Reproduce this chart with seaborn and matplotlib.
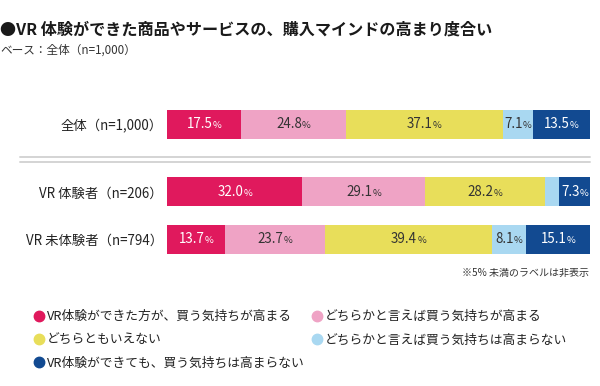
import matplotlib
matplotlib.use("Agg")
import matplotlib.pyplot as plt
import seaborn as sns
import pandas as pd
from matplotlib.lines import Line2D
from matplotlib.offsetbox import TextArea, HPacker, AnnotationBbox

sns.set_theme(style="white")
plt.rcParams['font.family'] = ['Noto Sans CJK JP', 'DejaVu Sans']

# ---------------- data ----------------
title = "●VR 体験ができた商品やサービスの、購入マインドの高まり度合い"
subtitle = "ベース：全体（n=1,000）"
note = "※5% 未満のラベルは非表示"
top_groups = ["全体（n=1,000）"]
bottom_groups = ["VR 体験者（n=206）", "VR 未体験者（n=794）"]
series = [
    "VR体験ができた方が、買う気持ちが高まる",
    "どちらかと言えば買う気持ちが高まる",
    "どちらともいえない",
    "どちらかと言えば買う気持ちは高まらない",
    "VR体験ができても、買う気持ちは高まらない",
]
total_vals = [17.5, 24.8, 37.1, 7.1, 13.5]
vr_vals = [32.0, 29.1, 28.2, 3.4, 7.3]
nonvr_vals = [13.7, 23.7, 39.4, 8.1, 15.1]

colors = ["#E0195D", "#EFA3C5", "#E8DE5A", "#A9D8F1", "#124A91"]
text_colors = ["white", "#333333", "#333333", "#333333", "white"]

# ---------------- layout ----------------
W, H = 600, 386
fig = plt.figure(figsize=(W / 100, H / 100), dpi=100)
fig.patch.set_facecolor("white")


def px_rect(x0, y0, x1, y1):
    return [x0 / W, 1 - y1 / H, (x1 - x0) / W, (y1 - y0) / H]


def draw_stack(ax, groups, rows):
    recs = []
    for g, vals in zip(groups, rows):
        cum = 0.0
        for s, v in zip(series, vals):
            cum += v
            recs.append(dict(group=g, series=s, value=v, cum=cum, mid=cum - v / 2))
    df = pd.DataFrame(recs)
    for i in reversed(range(len(series))):
        sub = df[df.series == series[i]]
        sns.barplot(data=sub, x="cum", y="group", order=groups, color=colors[i],
                    saturation=1, width=0.62, orient="h", ax=ax, linewidth=0)
    ax.set_xlim(0, 100)
    ax.set_ylim(len(groups) - 0.5, -0.5)
    for sp in ax.spines.values():
        sp.set_visible(False)
    ax.set_xticks([])
    ax.set_xlabel("")
    ax.set_ylabel("")
    ax.tick_params(axis="y", length=0, pad=3, labelsize=9.6, labelcolor="#222222")
    for r in df.itertuples():
        if r.value < 5:
            continue
        i = series.index(r.series)
        gi = groups.index(r.group)
        num = TextArea(f"{r.value:.1f}", textprops=dict(color=text_colors[i], fontsize=9.6))
        pct = TextArea("%", textprops=dict(color=text_colors[i], fontsize=6.8))
        box = HPacker(children=[num, pct], align="baseline", pad=0, sep=0)
        ab = AnnotationBbox(box, (r.mid, gi), xycoords="data", box_alignment=(0.5, 0.5),
                            frameon=False, pad=0)
        ax.add_artist(ab)


ax_top = fig.add_axes(px_rect(167, 100.5, 590, 148.5))
draw_stack(ax_top, top_groups, [total_vals])

ax_bot = fig.add_axes(px_rect(167, 168, 590, 263))
draw_stack(ax_bot, bottom_groups, [vr_vals, nonvr_vals])

# separator (double grey line)
for yy in (156.7, 161.7):
    fig.add_artist(Line2D([20 / W, 590 / W], [1 - yy / H] * 2, color="#d4d4d4", lw=1.4))

# titles
fig.text(0 / W, 1 - 30 / H, title, fontsize=11.6, fontweight="bold", color="#1a1a1a",
         ha="left", va="center")
fig.text(0 / W, 1 - 50 / H, subtitle, fontsize=8.4, color="#333333", ha="left", va="center")
fig.text(589 / W, 1 - 273 / H, note, fontsize=7.2, color="#333333", ha="right", va="center")

# legend (row-major, two columns)
handles = [Line2D([], [], marker="o", linestyle="none", markersize=7.5,
                  markerfacecolor=c, markeredgecolor=c) for c in colors]
common = dict(frameon=False, fontsize=9.2, handlelength=0.7, handletextpad=0.2,
              labelspacing=0.82, borderpad=0, borderaxespad=0, labelcolor="#222222")
fig.legend([handles[0], handles[2], handles[4]], [series[0], series[2], series[4]],
           loc="upper left", bbox_to_anchor=(35 / W, 1 - 310 / H), **common)
fig.legend([handles[1], handles[3]], [series[1], series[3]],
           loc="upper left", bbox_to_anchor=(313 / W, 1 - 310 / H), **common)

fig.savefig("out.png", dpi=100, facecolor="white")
